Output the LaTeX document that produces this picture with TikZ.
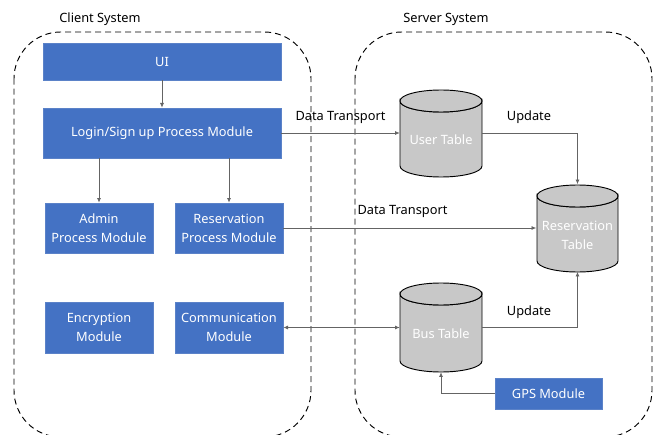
\documentclass[tikz,border=0pt]{standalone}
\usepackage{fontspec}
\setmainfont{Noto Sans}
\usetikzlibrary{arrows.meta}
\definecolor{modblue}{HTML}{4472C4}
\definecolor{modedge}{HTML}{5B82C8}
\definecolor{tblgray}{HTML}{C8C8C8}
\definecolor{wire}{HTML}{646464}
\newcommand{\dbcyl}[5]{% cx, top, bottom, rx, ry
  \path[cyl] (#1-#4,#2+#5) -- (#1-#4,#3-#5)
    arc[start angle=180,end angle=0,x radius=#4,y radius=#5]
    -- (#1+#4,#2+#5) arc[start angle=0,end angle=180,x radius=#4,y radius=#5] -- cycle;
  \path[cyl] (#1,#2+#5) ellipse[x radius=#4,y radius=#5];}
\begin{document}
\begin{tikzpicture}[x=0.75pt,y=-0.75pt,
  font=\fontsize{9.6}{14.2}\selectfont,
  module/.style={draw=modedge,fill=modblue,text=white,align=center,inner sep=0pt,line width=0.5pt},
  tblbox/.style={inner sep=0pt,minimum width=61.5pt,minimum height=#1},
  tbltext/.style={text=white,align=center,inner sep=0pt},
  cyl/.style={draw=black,fill=tblgray,line width=0.7pt},
  sysframe/.style={draw=black,dashed,dash pattern=on 4.5pt off 3pt,line width=0.7pt,rounded corners=35pt},
  conn/.style={draw=wire,line width=0.6pt,-{Latex[length=3.5pt,width=3pt]}},
  lbl/.style={inner sep=0pt,text=black}]
\useasboundingbox (0,0) rectangle (661,435);
\fill[white] (0,0) rectangle (661,435);

% system frames
\draw[sysframe] (14,32) rectangle (311,437);
\draw[sysframe] (355,32) rectangle (652,437);
\node[lbl] (clientlbl) at (100,19) {Client System};
\node[lbl] (serverlbl) at (446,19) {Server System};

% client modules
\node[module,minimum width=178.5pt,minimum height=27.75pt] (ui) at (162,61.5) {UI};
\node[module,minimum width=178.5pt,minimum height=37.5pt] (login) at (162,133) {Login/Sign up Process Module};
\node[module,minimum width=81pt,minimum height=37.5pt] (admin) at (99,228) {Admin\\Process Module};
\node[module,minimum width=81pt,minimum height=37.5pt] (resproc) at (229,228) {Reservation\\Process Module};
\node[module,minimum width=81pt,minimum height=38.25pt] (enc) at (99,327.5) {Encryption\\Module};
\node[module,minimum width=81pt,minimum height=38.25pt] (comm) at (229,327.5) {Communication\\Module};

% server tables (cylinders)
\dbcyl{441}{90}{177}{41}{11}
\dbcyl{577.5}{185}{272}{40.5}{11}
\dbcyl{441}{283}{372}{41}{11}
\node[tblbox=65.25pt] (usertbl) at (441,133) {};
\node[tblbox=65.25pt] (restbl) at (577.5,228) {};
\node[tblbox=66.75pt] (bustbl) at (441,327.5) {};
\node[tbltext] (usertxt) at (441,140) {User Table};
\node[tbltext] (restxt) at (577.5,235) {Reservation\\Table};
\node[tbltext] (bustxt) at (441,334) {Bus Table};

\node[module,minimum width=80.25pt,minimum height=23.25pt] (gps) at (548.5,393.5) {GPS Module};

% connectors
\draw[conn] (ui) -- (login);
\draw[conn] (login.south -| admin) -- (admin);
\draw[conn] (login.south -| resproc) -- (resproc);
\draw[conn] (login) -- (usertbl);
\draw[conn] (resproc) -- (restbl);
\draw[conn] (usertbl) -| (restbl);
\draw[conn] (bustbl) -| (restbl);
\draw[conn,{Latex[length=3.5pt,width=3pt]}-{Latex[length=3.5pt,width=3pt]}] (comm) -- (bustbl);
\draw[conn] (gps) -| (bustbl);

% connector labels
\node[lbl] (dt1) at (340.5,117) {Data Transport};
\node[lbl] (up1) at (529,117) {Update};
\node[lbl] (dt2) at (402.5,211) {Data Transport};
\node[lbl] (up2) at (529,312) {Update};
\end{tikzpicture}
\end{document}
